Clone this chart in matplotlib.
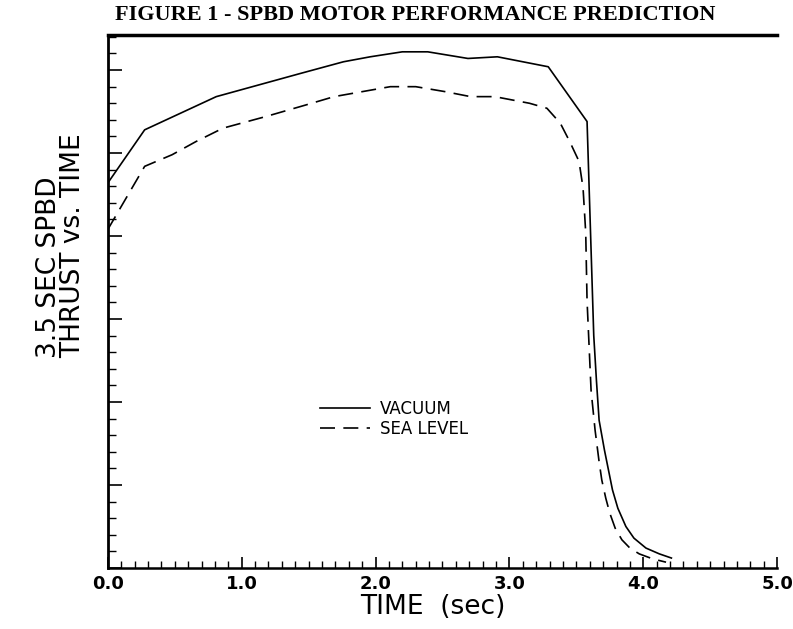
import matplotlib
matplotlib.use("Agg")
import matplotlib.pyplot as plt
from matplotlib.ticker import MultipleLocator

# tiempo (s) y empuje (unidades de la gráfica, sin escala en el eje)
t_vacio = [0.0, 0.275, 0.81, 1.44, 1.76, 1.96, 2.20, 2.39, 2.69, 2.91, 3.29,
           3.58, 3.63, 3.65, 3.67, 3.71, 3.74, 3.77, 3.81, 3.87, 3.93, 4.02,
           4.12, 4.21]
f_vacio = [23.2, 26.4, 28.4, 29.8, 30.5, 30.8, 31.1, 31.1, 30.7, 30.8, 30.2,
           26.9, 14.0, 11.3, 8.9, 7.1, 5.9, 4.7, 3.6, 2.5, 1.8, 1.2,
           0.85, 0.6]

t_mar = [0.0, 0.275, 0.48, 0.66, 0.86, 1.18, 1.48, 1.69, 1.90, 2.11, 2.30,
         2.52, 2.71, 2.89, 3.15, 3.28, 3.38, 3.45, 3.52, 3.55, 3.57, 3.58,
         3.61, 3.64, 3.67, 3.69, 3.72, 3.75, 3.79, 3.84, 3.90, 3.97, 4.07,
         4.17]
f_mar = [20.4, 24.2, 24.9, 25.7, 26.5, 27.2, 27.9, 28.4, 28.7, 29.0, 29.0,
         28.7, 28.4, 28.4, 28.0, 27.7, 26.8, 25.7, 24.5, 22.9, 20.2, 16.1,
         10.7, 8.3, 6.4, 5.3, 4.2, 3.3, 2.4, 1.7, 1.2, 0.85, 0.55,
         0.35]

etiquetas_x = ["0.0", "1.0", "2.0", "3.0", "4.0", "5.0"]

fig = plt.figure(figsize=(7.93, 6.29), dpi=100)
ax = fig.add_axes([0.136, 0.097, 0.844, 0.847])

ax.plot(t_vacio, f_vacio, color="black", lw=1.2, label="VACUUM")
linea_mar, = ax.plot(t_mar, f_mar, color="black", lw=1.2, label="SEA LEVEL")
linea_mar.set_dashes((9, 5))

ax.set_xlim(0, 5)
ax.set_ylim(0, 32.1)

# ejes al estilo del plotter: ticks hacia dentro, sin etiquetas en y
ax.xaxis.set_minor_locator(MultipleLocator(0.1))
ax.yaxis.set_major_locator(MultipleLocator(5))
ax.yaxis.set_minor_locator(MultipleLocator(1))
ax.set_xticks(range(6))
ax.set_xticklabels(etiquetas_x, fontsize=13, weight="bold")
ax.tick_params(axis="x", which="major", direction="in", length=8, width=1.2, pad=5)
ax.tick_params(axis="x", which="minor", direction="in", length=5, width=1.0)
ax.tick_params(axis="y", which="major", direction="in", length=10, width=1.2,
               labelleft=False)
ax.tick_params(axis="y", which="minor", direction="in", length=6, width=1.0)

ax.spines["right"].set_visible(False)
ax.spines["top"].set_linewidth(2.5)
ax.spines["left"].set_linewidth(2.0)
ax.spines["bottom"].set_linewidth(1.8)

ax.set_xlabel("TIME  (sec)", fontsize=19)
ax.xaxis.set_label_coords(0.485, -0.048)

fig.text(0.077, 0.61, "3.5 SEC SPBD\nTHRUST vs. TIME", rotation=90,
         fontsize=19, ha="center", va="center", multialignment="left",
         linespacing=0.95)

fig.text(0.523, 0.976, "FIGURE 1 - SPBD MOTOR PERFORMANCE PREDICTION",
         family="Liberation Serif", weight="bold", fontsize=16,
         ha="center", va="center")

ax.legend(loc="center", bbox_to_anchor=(0.428, 0.28), frameon=False,
          fontsize=12, handlelength=3.0, handletextpad=0.6, labelspacing=0.15)

fig.savefig("out.png", dpi=100)
